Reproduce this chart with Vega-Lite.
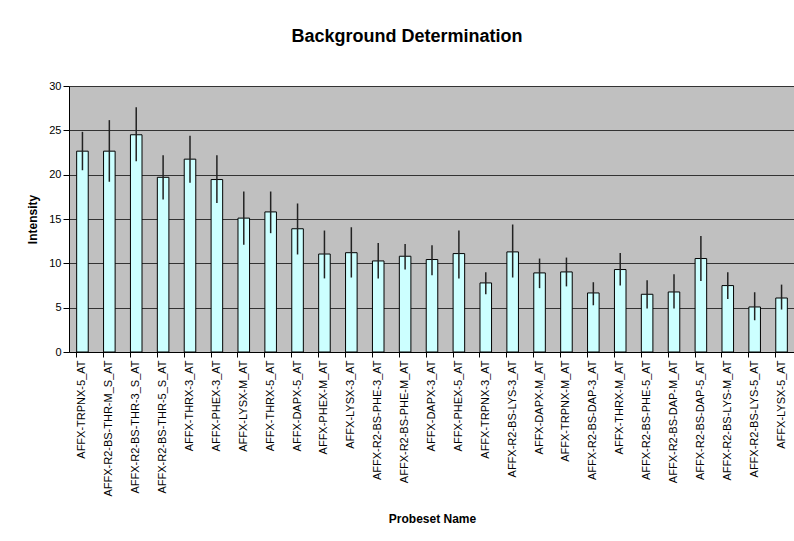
{
  "$schema": "https://vega.github.io/schema/vega-lite/v6.json",
  "autosize": "none",
  "padding": {"left": 69, "top": 86, "right": 0, "bottom": 189},
  "width": 726,
  "height": 266,
  "background": "white",
  "title": {
    "text": "Background Determination",
    "font": "Liberation Sans",
    "fontSize": 18,
    "fontWeight": "bold",
    "color": "black",
    "anchor": "middle",
    "frame": "group",
    "dx": -25,
    "offset": 34
  },
  "config": {
    "view": {"fill": "#C0C0C0", "stroke": null},
    "axis": {
      "labelFont": "Liberation Sans",
      "titleFont": "Liberation Sans",
      "labelColor": "black",
      "titleColor": "black",
      "labelFontSize": 11,
      "titleFontSize": 12,
      "titleFontWeight": "bold",
      "domainColor": "black",
      "tickColor": "black"
    }
  },
  "data": {
    "values": [
      {"name": "AFFX-TRPNX-5_AT", "v": 22.65, "lo": 20.5, "hi": 24.83},
      {"name": "AFFX-R2-BS-THR-M_S_AT", "v": 22.65, "lo": 19.2, "hi": 26.15},
      {"name": "AFFX-R2-BS-THR-3_S_AT", "v": 24.5, "lo": 21.5, "hi": 27.6},
      {"name": "AFFX-R2-BS-THR-5_S_AT", "v": 19.7, "lo": 17.2, "hi": 22.2},
      {"name": "AFFX-THRX-3_AT", "v": 21.75, "lo": 19.1, "hi": 24.4},
      {"name": "AFFX-PHEX-3_AT", "v": 19.45, "lo": 16.8, "hi": 22.2},
      {"name": "AFFX-LYSX-M_AT", "v": 15.1, "lo": 12.1, "hi": 18.1},
      {"name": "AFFX-THRX-5_AT", "v": 15.8, "lo": 13.4, "hi": 18.1},
      {"name": "AFFX-DAPX-5_AT", "v": 13.9, "lo": 11.0, "hi": 16.75},
      {"name": "AFFX-PHEX-M_AT", "v": 11.05, "lo": 8.3, "hi": 13.7},
      {"name": "AFFX-LYSX-3_AT", "v": 11.2, "lo": 8.4, "hi": 14.07},
      {"name": "AFFX-R2-BS-PHE-3_AT", "v": 10.27, "lo": 8.3, "hi": 12.3},
      {"name": "AFFX-R2-BS-PHE-M_AT", "v": 10.8, "lo": 9.3, "hi": 12.19},
      {"name": "AFFX-DAPX-3_AT", "v": 10.43, "lo": 8.66, "hi": 12.04},
      {"name": "AFFX-PHEX-5_AT", "v": 11.1, "lo": 8.3, "hi": 13.7},
      {"name": "AFFX-TRPNX-3_AT", "v": 7.79, "lo": 6.5, "hi": 9.0},
      {"name": "AFFX-R2-BS-LYS-3_AT", "v": 11.29, "lo": 8.4, "hi": 14.38},
      {"name": "AFFX-DAPX-M_AT", "v": 8.92, "lo": 7.2, "hi": 10.54},
      {"name": "AFFX-TRPNX-M_AT", "v": 9.03, "lo": 7.4, "hi": 10.65},
      {"name": "AFFX-R2-BS-DAP-3_AT", "v": 6.66, "lo": 5.27, "hi": 7.87},
      {"name": "AFFX-THRX-M_AT", "v": 9.3, "lo": 7.5, "hi": 11.17},
      {"name": "AFFX-R2-BS-PHE-5_AT", "v": 6.51, "lo": 4.9, "hi": 8.09},
      {"name": "AFFX-R2-BS-DAP-M_AT", "v": 6.77, "lo": 4.9, "hi": 8.77},
      {"name": "AFFX-R2-BS-DAP-5_AT", "v": 10.54, "lo": 8.0, "hi": 13.09},
      {"name": "AFFX-R2-BS-LYS-M_AT", "v": 7.49, "lo": 5.98, "hi": 9.0},
      {"name": "AFFX-R2-BS-LYS-5_AT", "v": 5.08, "lo": 3.58, "hi": 6.74},
      {"name": "AFFX-LYSX-5_AT", "v": 6.09, "lo": 4.79, "hi": 7.6}
    ]
  },
  "encoding": {
    "x": {
      "field": "name",
      "type": "nominal",
      "sort": null,
      "scale": {"paddingInner": 0.57, "paddingOuter": 0.285},
      "axis": {
        "title": "Probeset Name",
        "labelAngle": -90,
        "labelPadding": 3,
        "tickSize": 5,
        "bandPosition": 0,
        "titlePadding": 17,
        "labelLimit": 300
      }
    }
  },
  "layer": [
    {
      "mark": {"type": "bar", "fill": "#CCFFFF", "stroke": "black", "strokeWidth": 1},
      "encoding": {
        "y": {
          "field": "v",
          "type": "quantitative",
          "scale": {"domain": [0, 30], "nice": false},
          "axis": {
            "title": "Intensity",
            "values": [0, 5, 10, 15, 20, 25, 30],
            "grid": true,
            "gridColor": "#333333",
            "gridWidth": 1,
            "gridOpacity": 1,
            "tickSize": 6,
            "labelPadding": 2,
            "titlePadding": 9
          }
        }
      }
    },
    {
      "mark": {"type": "rule", "color": "#222222", "strokeWidth": 1.5},
      "encoding": {
        "y": {"field": "lo", "type": "quantitative"},
        "y2": {"field": "hi"}
      }
    }
  ]
}
